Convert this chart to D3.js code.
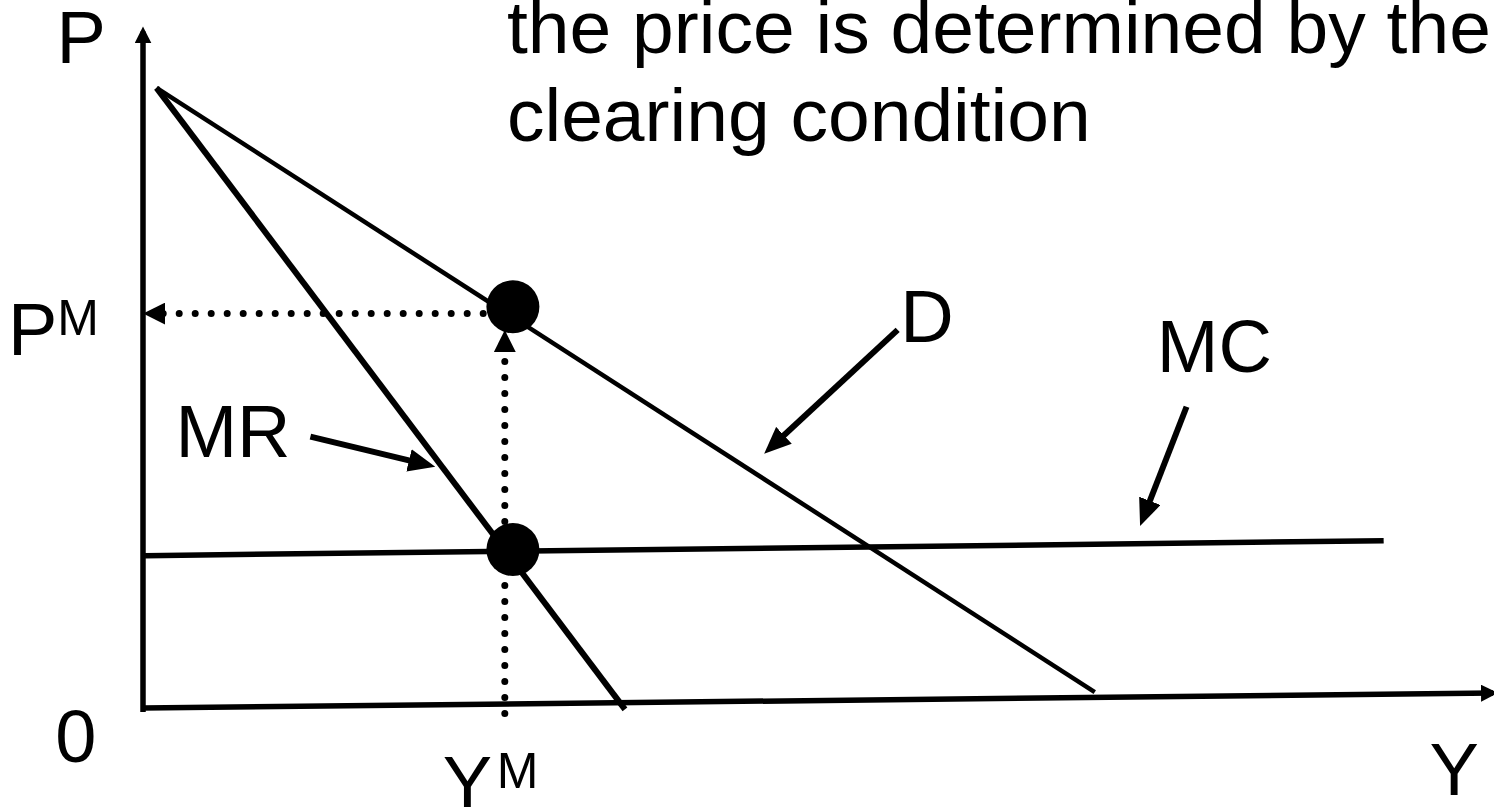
<!DOCTYPE html>
<html lang="en">
<head>
  <meta charset="UTF-8">
  <title>Monopoly price</title>
  <style>
body { margin: 0; background: #fff; }
svg { display: block; }
text { font-family: "Liberation Sans", Arial, sans-serif; fill: #000; }
  </style>
</head>
<body>
<div id="wrapper"></div>
<script src="https://cdnjs.cloudflare.com/ajax/libs/d3/7.8.5/d3.min.js"></script>
<script>

// data units: quantity (Y) 0..100 across, price (P) 0..100 up
const axisX = [[0, 0], [100, 2.2]]
const axisY = [[0, -0.6], [0, 99.5]]
const demand = [[1.0, 91.2], [70.5, 2.35]]
const marginalRevenue = [[1.0, 91.2], [35.7, -0.2]]
const marginalCost = [[0.15, 22.4], [91.9, 24.6]]
const optimum = [[27.4, 59.0], [27.4, 23.3]]
const priceGuide = [[25.2, 58.0], [0.6, 58.0]]
const quantityGuide = [[26.8, -0.8], [26.8, 54.4]]
const pointerFrom = [[12.4, 39.9], [55.9, 55.6], [77.3, 44.3]]
const pointerTo = [[21.0, 35.8], [46.5, 38.3], [74.1, 28.0]]
const labelText = ["P", "P", "0", "Y", "Y", "D", "MC", "MR"]
const labelSup = ["", "M", "", "M", "", "", "", ""]
const titleLines = ["the price is determined by the", "clearing condition"]

// layout
const dimensions = { width: 1494, height: 807 }
const labelAt = [[-6.4, 94.9], [-10.0, 51.9], [-6.5, -7.9], [22.2, -14.7], [95.3, -12.8], [56.1, 53.8], [75.1, 49.4], [2.4, 36.9]]
const supAt = [null, [-6.35, 54.85], null, [26.2, -11.8], null, null, null, null]

const xScale = d3.scaleLinear().domain([0, 100]).range([143, 1493])
const yScale = d3.scaleLinear().domain([0, 100]).range([708, 28])

const svg = d3.select("#wrapper").append("svg")
  .attr("width", dimensions.width)
  .attr("height", dimensions.height)

// arrow heads
const defs = svg.append("defs")
function addHead(id, len, wid, ref) {
  defs.append("marker")
    .attr("id", id)
    .attr("markerUnits", "userSpaceOnUse")
    .attr("viewBox", `0 0 ${len} ${wid}`)
    .attr("markerWidth", len)
    .attr("markerHeight", wid)
    .attr("refX", ref)
    .attr("refY", wid / 2)
    .attr("orient", "auto")
    .append("path")
    .attr("d", `M0,0 L${len},${wid / 2} L0,${wid} Z`)
    .attr("fill", "#000")
}
addHead("axisHead", 17, 17, 12)
addHead("dotHead", 22, 22, 14)
addHead("pointHead", 27, 23, 18)

const line = d3.line()
  .x(d => xScale(d[0]))
  .y(d => yScale(d[1]))

function drawLine(data, width, head, dotted) {
  const p = svg.append("path")
    .attr("d", line(data))
    .attr("fill", "none")
    .attr("stroke", "#000")
    .attr("stroke-width", width)
  if (head) p.attr("marker-end", `url(#${head})`)
  if (dotted) p.attr("stroke-dasharray", "0 16").attr("stroke-linecap", "round")
  return p
}

drawLine(axisY, 5.5, "axisHead")
drawLine(axisX, 5.5, "axisHead")
drawLine(priceGuide, 7, "dotHead", true)
drawLine(quantityGuide, 7, "dotHead", true)
drawLine(marginalCost, 5.5)
drawLine(demand, 4.5)
drawLine(marginalRevenue, 6)

svg.selectAll("circle.opt")
  .data(optimum)
  .join("circle")
  .attr("class", "opt")
  .attr("cx", d => xScale(d[0]))
  .attr("cy", d => yScale(d[1]))
  .attr("r", 26.5)
  .attr("fill", "#000")

pointerFrom.forEach((f, i) => drawLine([f, pointerTo[i]], 6, "pointHead"))

// labels
labelText.forEach((t, i) => {
  svg.append("text")
    .attr("x", xScale(labelAt[i][0]))
    .attr("y", yScale(labelAt[i][1]))
    .attr("font-size", 74)
    .text(t)
  if (labelSup[i]) {
    svg.append("text")
      .attr("x", xScale(supAt[i][0]))
      .attr("y", yScale(supAt[i][1]))
      .attr("font-size", 50)
      .text(labelSup[i])
  }
})

// heading text (cropped slide text)
svg.append("g").selectAll("text")
  .data(titleLines)
  .join("text")
  .attr("x", 507)
  .attr("y", (d, i) => 53 + i * 88)
  .attr("font-size", 75)
  .text(d => d)

</script>
</body>
</html>
